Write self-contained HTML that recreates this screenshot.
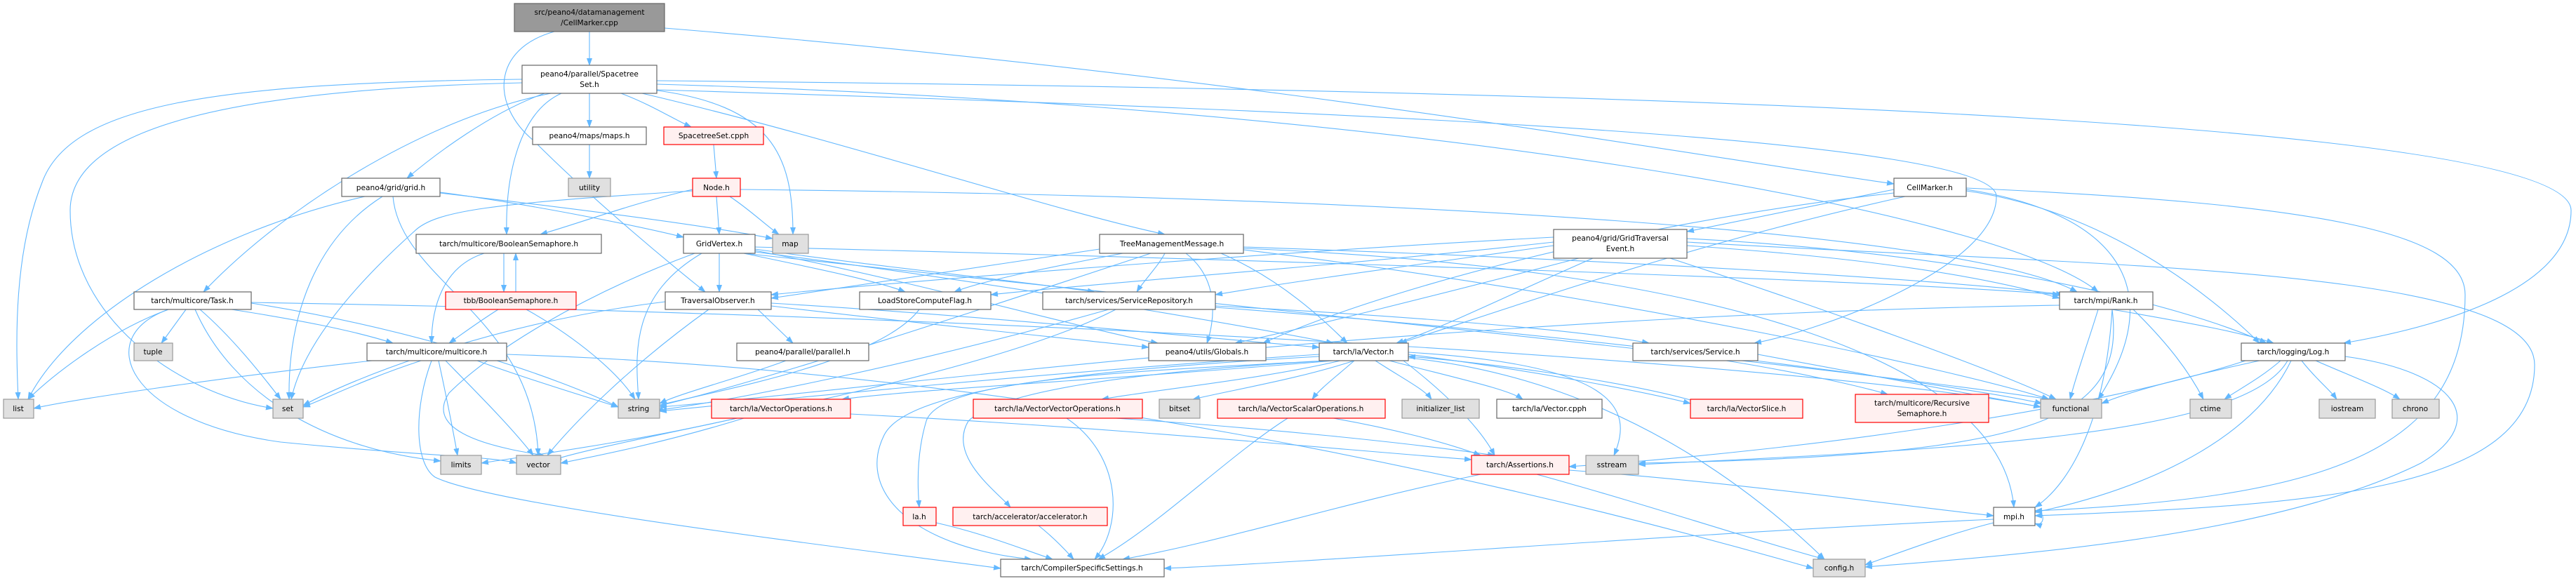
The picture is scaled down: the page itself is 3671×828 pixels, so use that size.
<!DOCTYPE html>
<html><head><meta charset="utf-8"><style>
html,body{margin:0;padding:0;background:#fff;width:3671px;height:828px;overflow:hidden}
svg{display:block}
text{font-family:"DejaVu Sans","Liberation Sans",sans-serif;font-size:10.6px;fill:#000;text-anchor:middle}
.e{fill:none;stroke:#63b8ff;stroke-width:1.1;marker-end:url(#a)}
.n{fill:#fff;stroke:#666;stroke-width:1.2}
.g{fill:#e0e0e0;stroke:#999;stroke-width:1.2}
.r{fill:#fff0f0;stroke:#f00;stroke-width:1.2}
.root{fill:#999;stroke:#666;stroke-width:1.2}
</style></head><body>
<svg width="3671" height="828" viewBox="0 0 3671 828" xmlns="http://www.w3.org/2000/svg">
<defs><marker id="a" markerWidth="11" markerHeight="8" refX="10" refY="4" orient="auto" markerUnits="userSpaceOnUse"><path d="M0,0 L11,4 L0,8 z" fill="#63b8ff"/></marker></defs>
<g>
<path class="e" d="M840,45 L840,93"/>
<path class="e" d="M790,45 C700,70 700,150 760,200 C850,290 960,380 1005,416"/>
<path class="e" d="M947,40 C1800,110 2400,220 2699,262"/>
<path class="e" d="M744,113 C300,118 100,150 60,260 C20,360 22,480 26,569"/>
<path class="e" d="M744,118 C300,128 100,190 100,300 C100,450 250,560 389,582"/>
<path class="e" d="M785,133 C600,170 400,300 290,416"/>
<path class="e" d="M776,133 C700,160 620,220 580,254"/>
<path class="e" d="M800,133 C740,160 720,250 722,334"/>
<path class="e" d="M840,133 L840,181"/>
<path class="e" d="M885,133 C930,150 960,170 985,181"/>
<path class="e" d="M930,128 C1100,150 1130,220 1130,334"/>
<path class="e" d="M915,133 C1200,200 1500,300 1660,334"/>
<path class="e" d="M936,128 C2000,160 2845,200 2845,280 C2845,380 2600,470 2500,489"/>
<path class="e" d="M936,115 C2500,130 3664,180 3664,300 C3664,420 3450,470 3340,489"/>
<path class="e" d="M936,120 C2000,150 2850,300 2990,416"/>
<path class="e" d="M840,206 L840,254"/>
<path class="e" d="M1017,206 L1021,254"/>
<path class="e" d="M987,270 C900,290 820,320 770,334"/>
<path class="e" d="M1021,280 L1025,334"/>
<path class="e" d="M1040,280 C1070,300 1090,320 1110,334"/>
<path class="e" d="M987,272 C700,290 620,300 590,330 C490,420 430,500 415,569"/>
<path class="e" d="M1055,270 C2000,280 2800,330 2960,416"/>
<path class="e" d="M520,280 C300,330 100,450 40,569"/>
<path class="e" d="M545,280 C450,340 410,450 412,569"/>
<path class="e" d="M560,280 C570,400 760,450 767,649"/>
<path class="e" d="M627,274 C750,290 900,320 974,338"/>
<path class="e" d="M627,275 C800,295 1000,320 1101,340"/>
<path class="e" d="M718,361 L718,416"/>
<path class="e" d="M735,416 L735,361"/>
<path class="e" d="M690,361 C630,380 615,440 615,489"/>
<path class="e" d="M710,441 C680,460 660,475 640,489"/>
<path class="e" d="M750,441 C820,480 880,530 905,569"/>
<path class="e" d="M240,441 C160,470 80,530 40,569"/>
<path class="e" d="M265,441 L230,489"/>
<path class="e" d="M285,441 C330,480 370,530 400,569"/>
<path class="e" d="M330,441 C420,455 500,470 560,489"/>
<path class="e" d="M278,441 C330,560 460,640 628,657"/>
<path class="e" d="M240,441 C130,480 180,600 400,630 C600,650 700,650 736,660"/>
<path class="e" d="M358,432 C600,470 800,540 881,580"/>
<path class="e" d="M358,431 C1500,450 2600,520 2908,580"/>
<path class="e" d="M530,514 C300,540 100,570 48,582"/>
<path class="e" d="M600,514 C520,540 460,570 432,580"/>
<path class="e" d="M680,514 C750,540 850,570 881,580"/>
<path class="e" d="M625,514 C635,560 645,610 652,649"/>
<path class="e" d="M635,514 C680,560 730,610 760,649"/>
<path class="e" d="M615,514 C590,580 590,660 620,680 C700,720 1200,780 1426,810"/>
<path class="e" d="M722,505 C1500,530 2200,700 2584,810"/>
<path class="e" d="M1025,361 L1025,416"/>
<path class="e" d="M1000,361 C900,420 905,500 910,569"/>
<path class="e" d="M990,361 C830,420 700,500 640,560 C600,620 720,640 775,649"/>
<path class="e" d="M1060,361 C1150,380 1250,400 1290,416"/>
<path class="e" d="M1076,355 C1250,380 1450,400 1560,416"/>
<path class="e" d="M1076,357 C1300,400 1550,470 1650,489"/>
<path class="e" d="M1076,359 C1400,400 1750,460 1900,489"/>
<path class="e" d="M1076,352 C1800,370 2700,400 2935,420"/>
<path class="e" d="M1060,361 C1600,420 2600,520 2920,569"/>
<path class="e" d="M1080,441 C1100,460 1115,475 1130,489"/>
<path class="e" d="M1010,441 C900,520 820,600 780,649"/>
<path class="e" d="M1099,432 C1400,450 1700,480 1880,495"/>
<path class="e" d="M1099,436 C1300,460 1500,480 1637,495"/>
<path class="e" d="M948,430 C700,460 500,540 432,578"/>
<path class="e" d="M1120,514 C1050,540 970,560 940,575"/>
<path class="e" d="M1600,361 C1500,380 1400,400 1360,416"/>
<path class="e" d="M1660,361 C1650,380 1630,400 1620,416"/>
<path class="e" d="M1690,361 C1740,400 1730,460 1720,489"/>
<path class="e" d="M1740,361 C1830,400 1890,460 1920,489"/>
<path class="e" d="M1567,355 C1400,380 1200,410 1099,425"/>
<path class="e" d="M1640,361 C1400,440 1100,540 940,578"/>
<path class="e" d="M1772,352 C2300,370 2800,400 2940,420"/>
<path class="e" d="M1772,354 C2400,380 2850,500 2870,723"/>
<path class="e" d="M1772,356 C2300,420 2800,530 2920,569"/>
<path class="e" d="M1310,441 C1250,520 1000,560 930,580"/>
<path class="e" d="M1580,441 C1300,520 1050,570 935,585"/>
<path class="e" d="M1590,441 C1400,540 900,620 790,655"/>
<path class="e" d="M1732,436 C2000,450 2250,470 2350,489"/>
<path class="e" d="M1732,438 C2300,480 2800,550 2910,575"/>
<path class="e" d="M1900,514 C1600,540 1300,555 1200,569"/>
<path class="e" d="M1910,514 C1800,540 1650,555 1570,569"/>
<path class="e" d="M1930,514 C1850,540 1760,555 1700,569"/>
<path class="e" d="M1930,514 C1900,540 1880,555 1870,569"/>
<path class="e" d="M1960,514 C2000,540 2030,555 2040,569"/>
<path class="e" d="M1980,514 C2080,540 2150,555 2170,569"/>
<path class="e" d="M2007,505 C2200,530 2350,560 2409,575"/>
<path class="e" d="M2409,570 C2300,540 2100,515 2007,508"/>
<path class="e" d="M2007,502 C2300,520 2330,580 2300,649"/>
<path class="e" d="M1880,505 C1500,530 1100,570 940,586"/>
<path class="e" d="M1890,514 C1600,530 1340,540 1320,600 C1305,650 1308,700 1310,723"/>
<path class="e" d="M1895,514 C1600,530 1420,560 1380,600 C1350,650 1420,700 1440,723"/>
<path class="e" d="M1880,508 C1500,530 1290,560 1260,620 C1220,700 1300,780 1470,797"/>
<path class="e" d="M2007,510 C2300,540 2500,700 2600,797"/>
<path class="e" d="M2000,514 C2060,560 2110,610 2130,649"/>
<path class="e" d="M1050,596 C900,630 750,650 686,660"/>
<path class="e" d="M1060,596 C950,630 850,650 799,660"/>
<path class="e" d="M1212,590 C1600,610 1900,640 2097,655"/>
<path class="e" d="M1520,596 C1600,650 1600,750 1560,797"/>
<path class="e" d="M1590,596 C1800,610 2000,630 2130,649"/>
<path class="e" d="M1900,596 C1980,610 2060,630 2110,649"/>
<path class="e" d="M1835,596 C1750,650 1650,750 1565,797"/>
<path class="e" d="M1334,745 C1400,760 1450,780 1500,797"/>
<path class="e" d="M1480,749 C1500,765 1515,780 1530,797"/>
<path class="e" d="M2236,670 C2500,690 2700,720 2841,735"/>
<path class="e" d="M2190,676 C2350,720 2500,770 2600,797"/>
<path class="e" d="M2110,676 C1900,720 1750,770 1600,797"/>
<path class="e" d="M2214,345 C1900,380 1600,400 1412,420"/>
<path class="e" d="M2214,350 C2000,380 1850,400 1732,420"/>
<path class="e" d="M2250,368 C2050,420 1850,470 1760,489"/>
<path class="e" d="M2270,368 C2150,420 2050,470 1990,489"/>
<path class="e" d="M2404,350 C2700,370 2850,400 2935,425"/>
<path class="e" d="M2214,338 C1800,360 1300,400 1099,420"/>
<path class="e" d="M2380,368 C2600,440 2850,530 2930,569"/>
<path class="e" d="M2404,345 C3000,380 3612,380 3612,520 C3612,700 3300,720 2900,735"/>
<path class="e" d="M2404,340 C2800,360 3100,430 3230,489"/>
<path class="e" d="M2699,270 C2600,290 2480,315 2404,330"/>
<path class="e" d="M2699,275 C2300,320 1950,420 1800,489"/>
<path class="e" d="M2715,280 C2400,350 2150,440 1995,489"/>
<path class="e" d="M2802,270 C3000,300 3100,400 2990,569"/>
<path class="e" d="M2802,268 C3300,290 3513,330 3513,420 C3513,650 3300,710 2900,728"/>
<path class="e" d="M2802,272 C3000,300 3150,420 3220,489"/>
<path class="e" d="M2460,514 C2560,530 2650,550 2690,562"/>
<path class="e" d="M2505,505 C2700,540 2850,570 2908,580"/>
<path class="e" d="M2990,441 C2975,490 2960,530 2950,569"/>
<path class="e" d="M3010,441 C3120,460 3200,475 3240,489"/>
<path class="e" d="M3040,441 C3090,490 3120,530 3140,569"/>
<path class="e" d="M3010,441 C3000,600 2950,690 2900,723"/>
<path class="e" d="M2935,435 C2000,450 1200,560 940,580"/>
<path class="e" d="M3010,441 C3030,600 2900,650 2335,660"/>
<path class="e" d="M3250,514 C3220,540 3190,555 3170,569"/>
<path class="e" d="M3280,514 C3300,540 3320,555 3330,569"/>
<path class="e" d="M3300,514 C3360,540 3400,555 3420,569"/>
<path class="e" d="M3220,514 C3100,540 3030,560 2995,575"/>
<path class="e" d="M3260,514 C3200,620 2800,640 2335,662"/>
<path class="e" d="M3265,514 C3200,650 3000,710 2900,730"/>
<path class="e" d="M3342,508 C3500,530 3550,600 3450,660 C3250,760 2900,790 2658,808"/>
<path class="e" d="M3200,514 C3000,580 2600,640 2236,665"/>
<path class="e" d="M2900,730 C2915,725 2915,752 2900,746"/>
<path class="e" d="M2841,745 C2780,760 2700,790 2658,805"/>
<path class="e" d="M2841,740 C2400,760 1900,800 1659,810"/>
</g>
<g>
<rect class="root" x="733" y="5" width="214" height="40"/><text x="840" y="21">src/peano4/datamanagement</text><text x="840" y="36">/CellMarker.cpp</text>
<rect class="n" x="744" y="93" width="192" height="40"/><text x="840" y="109">peano4/parallel/Spacetree</text><text x="840" y="124">Set.h</text>
<rect class="n" x="759" y="181" width="162" height="25"/><text x="840" y="197">peano4/maps/maps.h</text>
<rect class="r" x="946" y="181" width="142" height="25"/><text x="1017" y="197">SpacetreeSet.cpph</text>
<rect class="g" x="810" y="254" width="60" height="26"/><text x="840" y="271">utility</text>
<rect class="n" x="487" y="254" width="140" height="26"/><text x="557" y="271">peano4/grid/grid.h</text>
<rect class="r" x="987" y="254" width="68" height="26"/><text x="1021" y="271">Node.h</text>
<rect class="n" x="2699" y="254" width="103" height="26"/><text x="2750" y="271">CellMarker.h</text>
<rect class="n" x="593" y="334" width="264" height="27"/><text x="725" y="351">tarch/multicore/BooleanSemaphore.h</text>
<rect class="n" x="974" y="334" width="102" height="27"/><text x="1025" y="351">GridVertex.h</text>
<rect class="g" x="1101" y="334" width="51" height="27"/><text x="1126" y="351">map</text>
<rect class="n" x="1567" y="334" width="205" height="27"/><text x="1670" y="351">TreeManagementMessage.h</text>
<rect class="n" x="2214" y="327" width="190" height="41"/><text x="2309" y="343">peano4/grid/GridTraversal</text><text x="2309" y="358">Event.h</text>
<rect class="n" x="191" y="416" width="167" height="25"/><text x="274" y="432">tarch/multicore/Task.h</text>
<rect class="r" x="635" y="416" width="186" height="25"/><text x="728" y="432">tbb/BooleanSemaphore.h</text>
<rect class="n" x="948" y="416" width="151" height="25"/><text x="1023" y="432">TraversalObserver.h</text>
<rect class="n" x="1225" y="416" width="187" height="25"/><text x="1318" y="432">LoadStoreComputeFlag.h</text>
<rect class="n" x="1486" y="416" width="246" height="25"/><text x="1609" y="432">tarch/services/ServiceRepository.h</text>
<rect class="n" x="2935" y="416" width="133" height="25"/><text x="3001" y="432">tarch/mpi/Rank.h</text>
<rect class="g" x="191" y="489" width="55" height="25"/><text x="218" y="505">tuple</text>
<rect class="n" x="523" y="489" width="199" height="25"/><text x="622" y="505">tarch/multicore/multicore.h</text>
<rect class="n" x="1050" y="489" width="188" height="25"/><text x="1144" y="505">peano4/parallel/parallel.h</text>
<rect class="n" x="1637" y="489" width="167" height="25"/><text x="1720" y="505">peano4/utils/Globals.h</text>
<rect class="n" x="1880" y="489" width="127" height="25"/><text x="1943" y="505">tarch/la/Vector.h</text>
<rect class="n" x="2327" y="489" width="178" height="25"/><text x="2416" y="505">tarch/services/Service.h</text>
<rect class="n" x="3194" y="489" width="148" height="25"/><text x="3268" y="505">tarch/logging/Log.h</text>
<rect class="g" x="5" y="569" width="43" height="27"/><text x="26" y="586">list</text>
<rect class="g" x="389" y="569" width="43" height="27"/><text x="410" y="586">set</text>
<rect class="g" x="881" y="569" width="59" height="27"/><text x="910" y="586">string</text>
<rect class="r" x="1014" y="569" width="198" height="27"/><text x="1113" y="586">tarch/la/VectorOperations.h</text>
<rect class="r" x="1387" y="569" width="241" height="27"/><text x="1507" y="586">tarch/la/VectorVectorOperations.h</text>
<rect class="g" x="1652" y="569" width="58" height="27"/><text x="1681" y="586">bitset</text>
<rect class="r" x="1735" y="569" width="239" height="27"/><text x="1854" y="586">tarch/la/VectorScalarOperations.h</text>
<rect class="g" x="1998" y="569" width="110" height="27"/><text x="2053" y="586">initializer_list</text>
<rect class="n" x="2133" y="569" width="150" height="27"/><text x="2208" y="586">tarch/la/Vector.cpph</text>
<rect class="r" x="2409" y="569" width="160" height="27"/><text x="2489" y="586">tarch/la/VectorSlice.h</text>
<rect class="r" x="2644" y="562" width="190" height="40"/><text x="2739" y="578">tarch/multicore/Recursive</text><text x="2739" y="593">Semaphore.h</text>
<rect class="g" x="2908" y="569" width="87" height="27"/><text x="2951" y="586">functional</text>
<rect class="g" x="3121" y="569" width="59" height="27"/><text x="3150" y="586">ctime</text>
<rect class="g" x="3305" y="569" width="80" height="27"/><text x="3345" y="586">iostream</text>
<rect class="g" x="3409" y="569" width="67" height="27"/><text x="3442" y="586">chrono</text>
<rect class="g" x="628" y="649" width="58" height="27"/><text x="657" y="666">limits</text>
<rect class="g" x="736" y="649" width="63" height="27"/><text x="767" y="666">vector</text>
<rect class="r" x="2097" y="649" width="139" height="27"/><text x="2166" y="666">tarch/Assertions.h</text>
<rect class="g" x="2260" y="649" width="75" height="27"/><text x="2297" y="666">sstream</text>
<rect class="r" x="1287" y="723" width="47" height="26"/><text x="1310" y="740">la.h</text>
<rect class="r" x="1358" y="723" width="220" height="26"/><text x="1468" y="740">tarch/accelerator/accelerator.h</text>
<rect class="n" x="2841" y="723" width="59" height="26"/><text x="2870" y="740">mpi.h</text>
<rect class="n" x="1426" y="797" width="233" height="25"/><text x="1542" y="813">tarch/CompilerSpecificSettings.h</text>
<rect class="g" x="2584" y="797" width="74" height="25"/><text x="2621" y="813">config.h</text>
</g>
</svg>
</body></html>
